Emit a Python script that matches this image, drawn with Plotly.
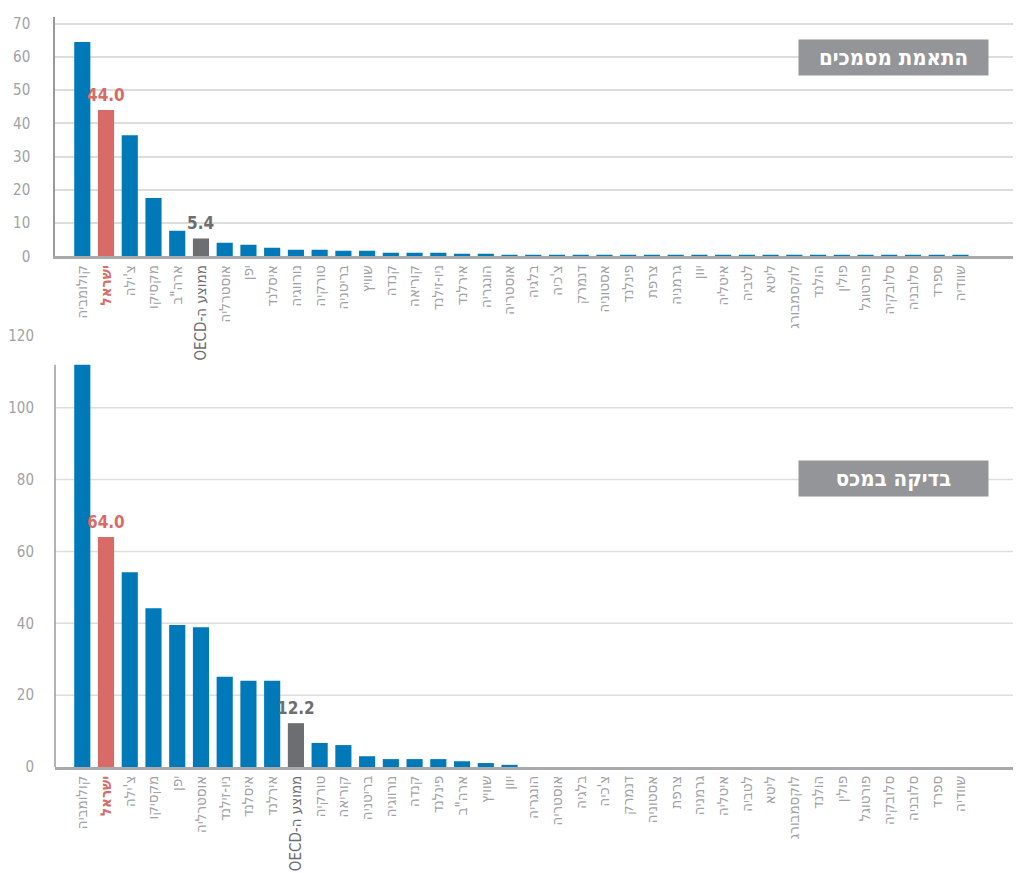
import plotly.graph_objects as go

# ---------- data ----------
top_title = "התאמת מסמכים"
top_categories = ["קולומביה", "ישראל", "צ'ילה", "מקסיקו", "ארה\"ב", "ממוצע ה-OECD", "אוסטרליה", "יפן",
                  "איסלנד", "נורווגיה", "טורקיה", "בריטניה", "שוויץ", "קנדה", "קוריאה", "ניו-זילנד",
                  "אירלנד", "הונגריה", "אוסטריה", "בלגיה", "צ'כיה", "דנמרק", "אסטוניה", "פינלנד",
                  "צרפת", "גרמניה", "יוון", "איטליה", "לטביה", "ליטא", "לוקסמבורג", "הולנד",
                  "פולין", "פורטוגל", "סלובקיה", "סלובניה", "ספרד", "שוודיה"]
top_values = [64.5, 44.0, 36.4, 17.6, 7.7, 5.4, 4.1, 3.5,
              2.6, 2.0, 2.0, 1.7, 1.7, 1.1, 1.1, 1.1,
              0.8, 0.8, 0.5, 0.5, 0.5, 0.5, 0.5, 0.5,
              0.5, 0.5, 0.5, 0.5, 0.5, 0.5, 0.5, 0.5,
              0.5, 0.5, 0.5, 0.5, 0.5, 0.5]
top_ticks = [0, 10, 20, 30, 40, 50, 60, 70]

bottom_title = "בדיקה במכס"
bottom_categories = ["קולומביה", "ישראל", "צ'ילה", "מקסיקו", "יפן", "אוסטרליה", "ניו-זילנד", "איסלנד",
                     "אירלנד", "ממוצע ה-OECD", "טורקיה", "קוריאה", "בריטניה", "נורווגיה", "קנדה", "פינלנד",
                     "ארה\"ב", "שוויץ", "יוון", "הונגריה", "אוסטריה", "בלגיה", "צ'כיה", "דנמרק",
                     "אסטוניה", "צרפת", "גרמניה", "איטליה", "לטביה", "ליטא", "לוקסמבורג", "הולנד",
                     "פולין", "פורטוגל", "סלובקיה", "סלובניה", "ספרד", "שוודיה"]
bottom_values = [112.0, 64.0, 54.2, 44.2, 39.5, 38.9, 25.1, 24.0,
                 24.0, 12.2, 6.7, 6.1, 3.0, 2.2, 2.2, 2.2,
                 1.6, 1.1, 0.6, 0, 0, 0, 0, 0,
                 0, 0, 0, 0, 0, 0, 0, 0,
                 0, 0, 0, 0, 0, 0]
bottom_ticks = [0, 20, 40, 60, 80, 100, 120]
bottom_grid = [20, 40, 60, 80, 100]

highlight = "ישראל"
average = "ממוצע ה-OECD"

# ---------- style ----------
BLUE = "#0079B8"
RED = "#D86B67"
DARK = "#6D6E71"
TICK = "#A0A2A5"
GRID = "#DDDDDD"
FONT = "Liberation Sans Narrow, DejaVu Sans Condensed, sans-serif"
LABEL_FONT = "DejaVu Sans Condensed, Liberation Sans Narrow, sans-serif"


def display_label(c):
    # show mixed Hebrew/Latin text in the visual order of the reference
    if c == average:
        return "OECD-ממוצע ה"
    return c


def tick_text(cats):
    out = []
    for c in cats:
        t = display_label(c)
        if c == highlight:
            out.append(f"<span style='color:{RED}'><b>{t}</b></span>")
        elif c == average:
            out.append(f"<span style='color:{DARK}'>{t}</span>")
        else:
            out.append(t)
    return out


def colors(cats):
    return [RED if c == highlight else DARK if c == average else BLUE for c in cats]


fig = go.Figure()

for cats, vals, xa, ya in [(top_categories, top_values, "x", "y"),
                           (bottom_categories, bottom_values, "x2", "y2")]:
    idx = list(range(len(cats)))
    fig.add_trace(go.Bar(
        x=idx, y=vals, xaxis=xa, yaxis=ya,
        marker=dict(color=colors(cats), line=dict(width=0)),
        width=0.68,
        showlegend=False, hoverinfo="skip",
    ))
    for i, (c, v) in enumerate(zip(cats, vals)):
        if c in (highlight, average):
            fig.add_annotation(x=i, y=v, xref=xa, yref=ya, text=f"<b>{v:.1f}</b>",
                               showarrow=False, yanchor="bottom", xanchor="center", yshift=3,
                               font=dict(family=LABEL_FONT, size=17,
                                         color=RED if c == highlight else DARK))

n = len(top_categories)
xrange = [-1.15, n + 1.55]

axis_common = dict(
    tickmode="array", tickangle=-90, showgrid=False, zeroline=False,
    showline=True, linecolor="#A8AAAD", linewidth=2.5, ticks="",
    tickfont=dict(family=FONT, size=15, color=TICK), range=xrange,
)

fig.update_layout(
    width=1013, height=865,
    margin=dict(l=46, r=0, t=4, b=106),
    plot_bgcolor="white", paper_bgcolor="white",
    xaxis=dict(axis_common, domain=[0, 1], anchor="y",
               tickvals=list(range(n)), ticktext=tick_text(top_categories)),
    yaxis=dict(domain=[0.6808, 1.0], range=[0, 72], tickvals=top_ticks,
               showgrid=True, gridcolor=GRID, gridwidth=1.5, zeroline=False,
               showline=True, linecolor="#9A9A9A", linewidth=1.5,
               ticks="", ticklabelstandoff=20,
               tickfont=dict(family=FONT, size=15, color=TICK)),
    xaxis2=dict(axis_common, domain=[0, 1], anchor="y2",
                tickvals=list(range(len(bottom_categories))), ticktext=tick_text(bottom_categories)),
    yaxis2=dict(domain=[0.0, 0.5748], range=[0, 120], tickvals=bottom_ticks,
                showgrid=False, zeroline=False, showline=False,
                ticks="", ticklabelstandoff=20,
                tickfont=dict(family=FONT, size=15, color=TICK)),
)

# bottom panel gridlines & y-axis line (top of axis stops at the plot content)
for g in bottom_grid:
    fig.add_shape(type="line", xref="x2 domain", yref="y2", x0=0, x1=1, y0=g, y1=g,
                  line=dict(color=GRID, width=1.5), layer="below")
fig.add_shape(type="line", xref="x2 domain", yref="y2", x0=0, x1=0, y0=0, y1=max(bottom_values),
              line=dict(color="#9A9A9A", width=1.5), layer="above")

# panel titles
for title, yc in [(top_title, 0.9457), (bottom_title, 0.3841)]:
    fig.add_annotation(text=f"<b>{title}</b>", xref="paper", yref="paper",
                       x=0.868, y=yc, xanchor="center", yanchor="middle", showarrow=False,
                       width=187, height=33, bgcolor="#939598",
                       font=dict(family=LABEL_FONT, size=22, color="white"))

fig.write_html("out.html")
